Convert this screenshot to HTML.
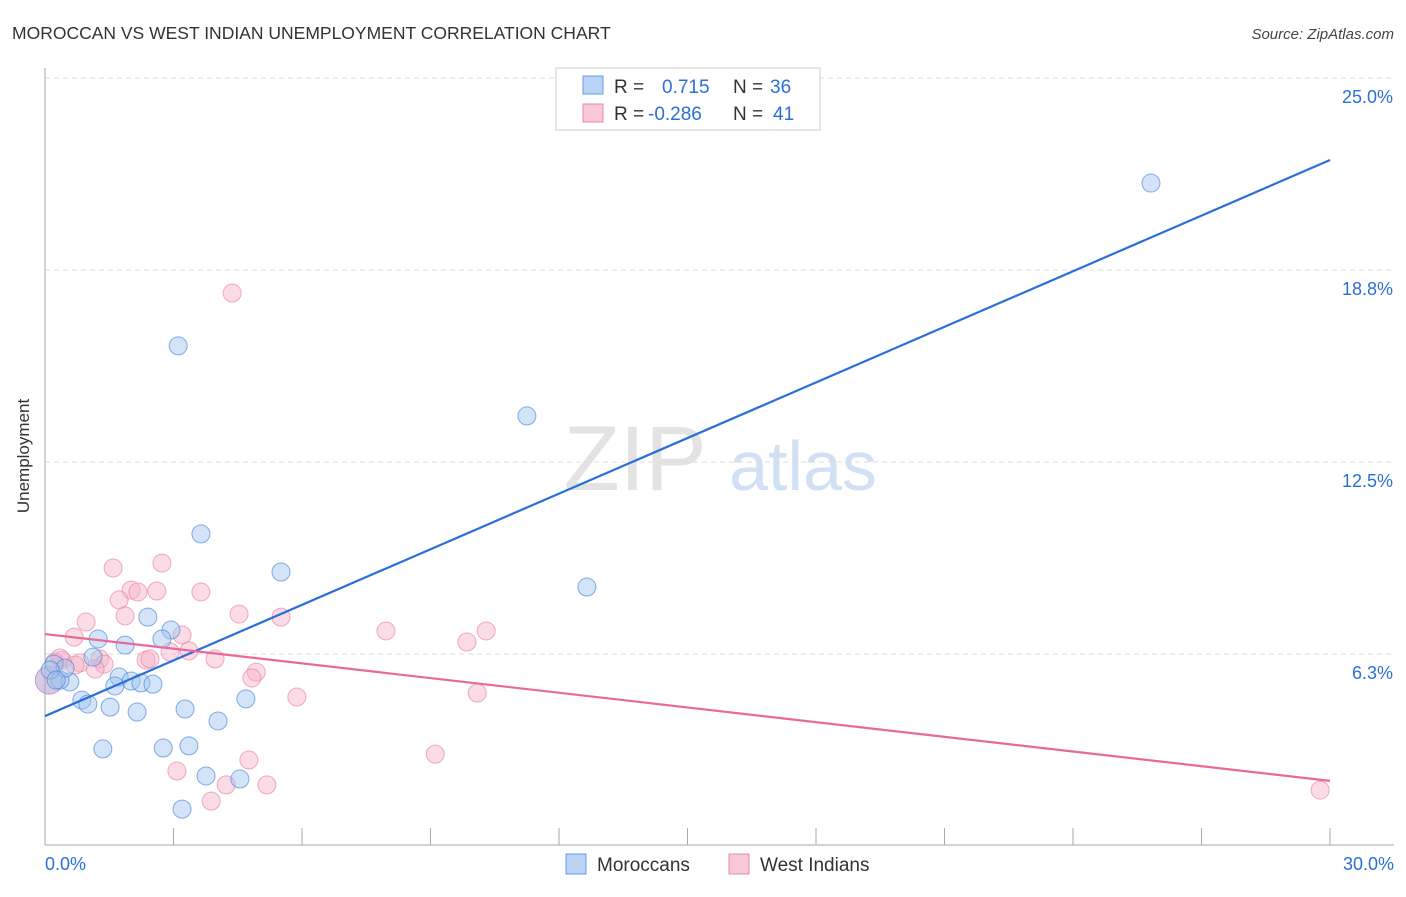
<!DOCTYPE html>
<html><head><meta charset="utf-8"><style>
body{margin:0;background:#fff;font-family:"Liberation Sans",sans-serif;}
svg text{font-family:"Liberation Sans",sans-serif;}
</style></head><body>
<svg id="chart" width="1406" height="892">
<text x="12" y="39" font-size="17.5" fill="#333">MOROCCAN VS WEST INDIAN UNEMPLOYMENT CORRELATION CHART</text>
<text x="1394" y="39" font-size="15" fill="#444" font-style="italic" text-anchor="end">Source: ZipAtlas.com</text>
<text x="29" y="456" font-size="17" fill="#333" text-anchor="middle" transform="rotate(-90 29 456)">Unemployment</text>
<g>
<text x="635" y="490" font-size="92" fill="#e3e3e3" font-family="Liberation Serif" text-anchor="middle">ZIP</text>
<text x="803" y="490" font-size="70" fill="#d2e0f3" text-anchor="middle">atlas</text>
</g>
<g id="grid"></g><g id="axes"></g><g id="pts"></g><g id="lines"></g>
<g>
<rect x="556" y="68" width="264" height="62" fill="#fff" stroke="#ccc"/>
<rect x="583" y="76" width="20" height="18" fill="#b8d3f5" stroke="#6b9be0"/>
<rect x="583" y="104" width="20" height="18" fill="#f9c8d7" stroke="#e88aa8"/>
<text x="614" y="93" font-size="19" fill="#333">R = </text><text x="662" y="93" font-size="19" fill="#2c6fd6">0.715</text>
<text x="733" y="93" font-size="19" fill="#333">N = </text><text x="770" y="93" font-size="19" fill="#2c6fd6">36</text>
<text x="614" y="120" font-size="19" fill="#333">R = </text><text x="648" y="120" font-size="19" fill="#2c6fd6">-0.286</text>
<text x="733" y="120" font-size="19" fill="#333">N = </text><text x="773" y="120" font-size="19" fill="#2c6fd6">41</text>
</g>
<g>
<rect x="566" y="854" width="20" height="20" fill="#b8d3f5" stroke="#6b9be0"/>
<text x="597" y="871" font-size="19" fill="#333">Moroccans</text>
<rect x="729" y="854" width="20" height="20" fill="#f9c8d7" stroke="#e88aa8"/>
<text x="760" y="871" font-size="19" fill="#333">West Indians</text>
</g>
</svg>
<script>
const yTicks=[25.0,18.8,12.5,6.3];
const yTickVals=[25,18.75,12.5,6.25];
const xTickLabels=["0.0%","30.0%"];
const blueX=[25.82,3.11,11.25,3.64,5.51,12.65,2.40,2.94,1.24,1.87,2.73,1.12,1.73,2.01,2.24,2.52,1.63,0.58,0.35,0.21,0.47,0.86,1.00,1.52,2.15,3.27,4.69,4.04,1.35,2.76,3.36,3.76,4.55,3.20,0.12,0.26];
const blueY=[21.58,16.28,14.0,10.16,8.92,8.43,7.45,7.03,6.74,6.54,6.74,6.15,5.50,5.37,5.31,5.27,5.21,5.34,5.40,5.92,5.79,4.75,4.62,4.52,4.36,4.46,4.79,4.07,3.16,3.19,3.26,2.28,2.18,1.20,5.73,5.40];
const pinkX=[4.37,2.73,1.59,2.01,2.17,2.61,3.64,1.73,1.87,4.53,5.51,0.96,0.68,3.20,7.96,10.30,9.85,3.36,1.28,2.36,2.45,3.97,1.38,0.82,1.17,0.40,0.23,4.93,4.83,5.88,10.09,9.11,4.76,3.08,4.23,5.18,3.88,29.77,0.35,0.70,2.92];
const pinkY=[18.0,9.21,9.05,8.33,8.27,8.30,8.27,8.01,7.49,7.55,7.45,7.29,6.80,6.87,7.00,7.00,6.64,6.35,6.09,6.05,6.09,6.09,5.92,5.96,5.76,6.05,5.99,5.66,5.47,4.85,4.98,2.99,2.80,2.44,1.99,1.99,1.46,1.82,6.12,5.89,6.32];
const blueLine=[4.23,22.33];
const pinkLine=[6.90,2.12];
const lineX=[0,30];
const X=v=>45+v*1285/30, Y=v=>846-v*30.72;
const NS="http://www.w3.org/2000/svg";
function mk(p,t,a){const e=document.createElementNS(NS,t);for(const k in a)e.setAttribute(k,a[k]);document.getElementById(p).appendChild(e);return e;}
yTickVals.forEach((v,i)=>{
 const l=mk('grid','line',{x1:45,x2:1394,y1:Y(v),y2:Y(v),stroke:'#ddd','stroke-dasharray':'5,4'});
 
 
 const t=mk('grid','text',{x:1393,y:Y(v)+25,'font-size':18,fill:'#2c6fd6','text-anchor':'end'});
 t.textContent=yTicks[i].toFixed(1)+'%';
 
 
});
mk('axes','line',{x1:45,x2:45,y1:68,y2:845,stroke:'#aaa'});
mk('axes','line',{x1:45,x2:1394,y1:845,y2:845,stroke:'#aaa'});
for(let i=0;i<=10;i++){const x=X(i*3);const t=mk('axes','line',{x1:x,x2:x,y1:828,y2:845,stroke:'#aaa'});
 
 }
const xl0=mk('axes','text',{x:45,y:870,'font-size':18,fill:'#2c6fd6'});xl0.textContent=xTickLabels[0];


const xl1=mk('axes','text',{x:1394,y:870,'font-size':18,fill:'#2c6fd6','text-anchor':'end'});xl1.textContent=xTickLabels[1];


const big1=mk('pts','circle',{cx:X(0.1),cy:Y(5.4),r:14,fill:'rgba(180,150,200,0.5)',stroke:'rgba(150,120,190,0.6)'});


pinkX.forEach((x,i)=>{const c=mk('pts','circle',{cx:X(x),cy:Y(pinkY[i]),r:9,fill:'rgba(246,178,199,0.45)',stroke:'rgba(230,120,155,0.6)'});
 
 });
blueX.forEach((x,i)=>{const c=mk('pts','circle',{cx:X(x),cy:Y(blueY[i]),r:9,fill:'rgba(160,196,240,0.45)',stroke:'rgba(70,130,215,0.65)'});
 
 });
const bl=mk('lines','line',{x1:X(lineX[0]),y1:Y(blueLine[0]),x2:X(lineX[1]),y2:Y(blueLine[1]),stroke:'#2a6fd8','stroke-width':2.2});


const pl=mk('lines','line',{x1:X(lineX[0]),y1:Y(pinkLine[0]),x2:X(lineX[1]),y2:Y(pinkLine[1]),stroke:'#e8689a','stroke-width':2.2});


</script>
</body></html>
